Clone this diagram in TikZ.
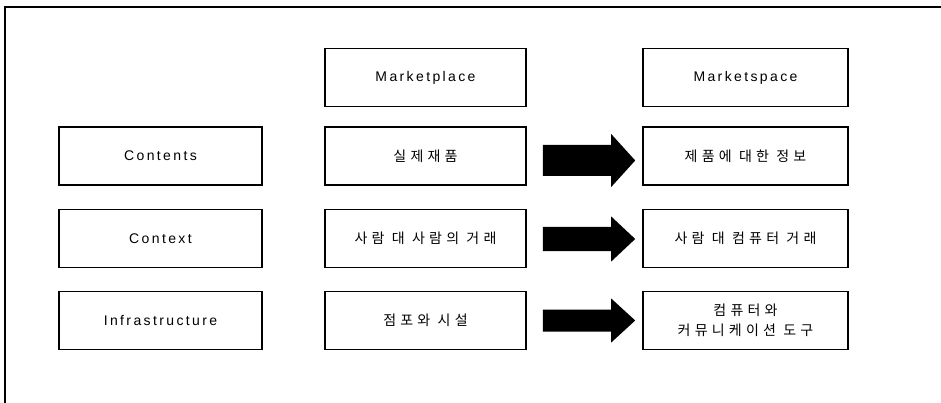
\documentclass[tikz,border=0pt]{standalone}
\usepackage{fontspec}
\setmainfont{Liberation Sans}
\newfontfamily\latf{Liberation Sans}[LetterSpace=17]
\newfontfamily\korf{Noto Sans CJK KR}[LetterSpace=30]
\usetikzlibrary{calc}
\tikzset{
  box/.style={draw, line width=1.6pt, minimum height=58pt, inner sep=0pt, align=center},
  lbox/.style={box, minimum width=203pt},
  mbox/.style={box, minimum width=201pt},
  rbox/.style={box, minimum width=205pt},
  lat/.style={font=\fontsize{14}{20}\latf},
  kor/.style={font=\fontsize{14}{20}\korf},
  frame/.style={line width=2.2pt},
  arrowfill/.style={fill=black}
}
\newcommand\fatarrow[5]{%
  \fill[arrowfill] ($(#1.east)+(16,#3-#4)$) -- ($(#2.west)+(-31,#3-#4)$)
   -- ($(#2.west)+(-31,#3-#5)$) -- ($(#2.west)+(-7,#3)$)
   -- ($(#2.west)+(-31,#3+#5)$) -- ($(#2.west)+(-31,#3+#4)$)
   -- ($(#1.east)+(16,#3+#4)$) -- cycle;}
\begin{document}
\begin{tikzpicture}[x=1pt,y=-1pt]
\useasboundingbox (0,0) rectangle (941,403);
\coordinate (ftr) at (941,7);
\coordinate (ftl) at (5,7);
\coordinate (fbl) at (5,403);
\draw[frame] (ftr) -- (ftl) -- (fbl);
% headers
\node[mbox, lat] (mh) at (425.5,77.5) {Marketplace};
\node[rbox, lat] (sh) at (745.5,77.5) {Marketspace};
% left column
\node[lbox, lat] (l1) at (160.5,156) {Contents};
\node[lbox, lat] (l2) at (160.5,238.5) {Context};
\node[lbox, lat] (l3) at (160.5,320.5) {Infrastructure};
% middle column
\node[mbox, kor] (m1) at (425.5,156) {실제재품};
\node[mbox, kor] (m2) at (425.5,238.5) {사람 대 사람의 거래};
\node[mbox, kor] (m3) at (425.5,320.5) {점포와 시설};
% right column
\node[rbox, kor] (s1) at (745.5,156) {제품에 대한 정보};
\node[rbox, kor] (s2) at (745.5,238.5) {사람 대 컴퓨터 거래};
\node[rbox, kor] (s3) at (745.5,320.5) {컴퓨터와\\커뮤니케이션 도구};
% arrows
\fatarrow{m1}{s1}{4.5}{15.5}{26.5}
\fatarrow{m2}{s2}{0.5}{12}{22.5}
\fatarrow{m3}{s3}{0}{11}{22}
\end{tikzpicture}
\end{document}
